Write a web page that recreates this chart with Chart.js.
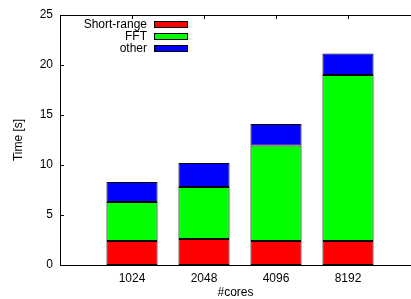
<!DOCTYPE html>
<html>
<head>
<meta charset="utf-8">
<script src="https://cdn.jsdelivr.net/npm/chart.js@4"></script>
<style>
  html, body { margin: 0; padding: 0; background: #fff; }
</style>
</head>
<body>
<canvas id="myChart" width="411" height="299"></canvas>
<script>
const cores = ["1024", "2048", "4096", "8192"];
const shortRange = [2.4, 2.6, 2.4, 2.4];
const fft = [3.9, 5.2, 9.55, 16.6];
const other = [2.0, 2.4, 2.15, 2.15];
const yTicks = [0, 5, 10, 15, 20, 25];

const FONT = "'Liberation Sans', Arial, sans-serif";
Chart.defaults.font.family = FONT;
Chart.defaults.font.size = 12;
Chart.defaults.color = "#000";

const points = vals => vals.map((v, i) => ({ x: i, y: v }));

// gnuplot style key: label right aligned, swatch to its right
const keyBox = {
  id: "keyBox",
  afterDatasetsDraw(chart) {
    const ctx = chart.ctx;
    ctx.save();
    ctx.font = "12px " + FONT;
    ctx.textAlign = "right";
    ctx.textBaseline = "middle";
    chart.data.datasets.forEach((ds, i) => {
      const y = 21 + i * 12;
      ctx.fillStyle = "#000";
      ctx.fillText(ds.label, 147, y + 3.5);
      ctx.fillRect(154, y, 34, 7);
      ctx.fillStyle = ds.backgroundColor;
      ctx.fillRect(155, y + 1, 32, 5);
    });
    ctx.restore();
  }
};

// left, bottom and top border + inward tick marks (right side is off the picture)
const frame = {
  id: "frame",
  afterDatasetsDraw(chart) {
    const { ctx, chartArea: a, scales: { x, y } } = chart;
    const L = Math.round(a.left), T = Math.round(a.top), B = Math.round(a.bottom), R = Math.round(a.right);
    ctx.save();
    ctx.fillStyle = "#000";
    ctx.fillRect(L, T, R - L, 1);
    ctx.fillRect(L, T, 1, B - T + 1);
    ctx.fillRect(L, B, R - L, 1);
    y.ticks.forEach(t => {
      ctx.fillRect(L, Math.round(y.getPixelForValue(t.value)), 4, 1);
    });
    x.ticks.forEach(t => {
      ctx.fillRect(Math.round(x.getPixelForValue(t.value)), T, 1, 4);
    });
    ctx.restore();
  }
};

new Chart(document.getElementById("myChart"), {
  type: "bar",
  data: {
    datasets: [
      { label: "Short-range", data: points(shortRange), backgroundColor: "#ff0000" },
      { label: "FFT", data: points(fft), backgroundColor: "#00ff00" },
      { label: "other", data: points(other), backgroundColor: "#0000ff" }
    ]
  },
  options: {
    responsive: false,
    animation: false,
    datasets: {
      bar: {
        borderColor: "#000",
        borderWidth: 1,
        borderSkipped: false,
        barPercentage: 1,
        categoryPercentage: 0.71
      }
    },
    layout: { padding: { top: 15, right: 0, bottom: 0, left: 0 } },
    plugins: {
      legend: { display: false },
      tooltip: { enabled: false }
    },
    scales: {
      x: {
        type: "linear",
        stacked: true,
        offset: false,
        min: -1,
        max: 3.875,
        grid: { display: false, drawTicks: false, tickLength: 0 },
        border: { display: false },
        afterBuildTicks: s => { s.ticks = cores.map((c, i) => ({ value: i })); },
        afterFit: s => { s.height = 34; },
        ticks: {
          padding: 6,
          autoSkip: false,
          maxRotation: 0,
          callback: v => cores[v]
        },
        title: { display: true, text: "#cores", font: { lineHeight: 1 }, padding: { top: 0, bottom: 0 } }
      },
      y: {
        stacked: true,
        min: 0,
        max: 25,
        grid: { display: false, drawTicks: false, tickLength: 0 },
        border: { display: false },
        afterBuildTicks: s => { s.ticks = yTicks.map(v => ({ value: v })); },
        afterFit: s => { s.width = 60; },
        ticks: { padding: 7 },
        title: { display: true, text: "Time [s]", padding: { top: 11, bottom: 0 } }
      }
    }
  },
  plugins: [keyBox, frame]
});
</script>
</body>
</html>
